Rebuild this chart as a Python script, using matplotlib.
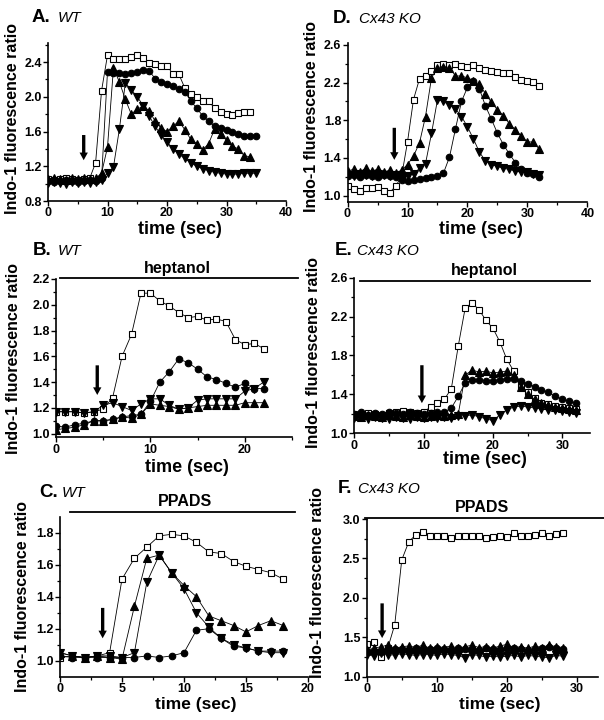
import numpy as np
import matplotlib
matplotlib.use('Agg')
import matplotlib.pyplot as plt
from matplotlib.lines import Line2D

plt.rcParams['font.family'] = ['Liberation Sans', 'DejaVu Sans']
plt.rcParams['font.weight'] = 'bold'

# ---------------- data ----------------
# Panel A: WT
A_sq = [1.05,1.04,1.05,1.06,1.05,1.04,1.05,1.06,1.24,2.07,2.48,2.44,2.43,2.44,2.46,2.48,2.45,2.39,
        2.38,2.35,2.36,2.26,2.26,2.10,2.03,2.00,1.95,1.95,1.87,1.83,1.80,1.79,1.81,1.82,1.82]
A_ci = [1.03,1.02,1.03,1.04,1.03,1.02,1.03,1.04,1.03,1.06,2.29,2.28,2.27,2.26,2.27,2.29,2.31,2.30,
        2.21,2.17,2.15,2.12,2.09,2.06,1.95,1.87,1.78,1.72,1.66,1.64,1.62,1.59,1.57,1.55,1.55,1.55]
A_up = [1.05,1.06,1.05,1.04,1.06,1.05,1.06,1.05,1.06,1.12,1.42,2.33,2.17,1.97,1.80,1.86,1.89,1.84,
        1.72,1.64,1.60,1.66,1.72,1.62,1.51,1.46,1.39,1.46,1.63,1.57,1.50,1.43,1.40,1.32,1.31]
A_dn = [1.01,1.02,1.01,1.00,1.02,1.01,1.02,1.01,1.02,1.04,1.12,1.19,1.63,2.16,2.08,2.00,1.90,1.78,
        1.66,1.56,1.48,1.40,1.34,1.29,1.24,1.20,1.17,1.15,1.13,1.12,1.11,1.11,1.11,1.12,1.12,1.12]

# Panel D: Cx43 KO
D_sq = [1.10,1.07,1.05,1.08,1.08,1.09,1.05,1.03,1.10,1.20,1.57,2.02,2.24,2.27,2.32,2.39,2.40,2.39,
        2.40,2.38,2.37,2.39,2.35,2.33,2.32,2.31,2.30,2.30,2.26,2.23,2.22,2.21,2.16]
D_up = [1.26,1.28,1.25,1.29,1.26,1.28,1.25,1.27,1.24,1.27,1.33,1.42,1.56,1.84,2.25,2.36,2.37,2.36,
        2.27,2.27,2.25,2.22,2.18,2.08,1.99,1.91,1.85,1.76,1.70,1.63,1.57,1.57,1.49]
D_dn = [1.22,1.21,1.23,1.22,1.21,1.23,1.22,1.21,1.22,1.20,1.21,1.23,1.29,1.34,1.66,2.02,2.00,1.96,
        1.92,1.84,1.73,1.60,1.46,1.37,1.33,1.31,1.29,1.28,1.26,1.25,1.25,1.23,1.22]
D_ci = [1.21,1.22,1.20,1.22,1.21,1.20,1.22,1.21,1.20,1.17,1.16,1.17,1.18,1.19,1.20,1.21,1.24,1.41,
        1.71,2.00,2.15,2.22,2.13,1.95,1.81,1.66,1.54,1.44,1.35,1.28,1.24,1.23,1.20]

# Panel B: WT + heptanol
B_sq = [1.17,1.17,1.17,1.16,1.17,1.19,1.28,1.60,1.77,2.09,2.09,2.03,1.99,1.94,1.90,1.91,1.88,1.89,
        1.87,1.73,1.69,1.70,1.66]
B_dn = [1.17,1.17,1.17,1.16,1.17,1.22,1.24,1.21,1.18,1.23,1.27,1.27,1.22,1.19,1.20,1.26,1.27,1.27,
        1.27,1.27,1.33,1.35,1.40]
B_up = [1.03,1.04,1.05,1.07,1.10,1.10,1.11,1.13,1.12,1.15,1.23,1.22,1.21,1.19,1.20,1.21,1.22,1.22,
        1.22,1.22,1.24,1.24,1.24]
B_ci = [1.06,1.05,1.07,1.08,1.10,1.10,1.11,1.13,1.14,1.15,1.25,1.40,1.48,1.58,1.55,1.50,1.44,1.42,
        1.39,1.36,1.39,1.35,1.35]

# Panel E: Cx43 KO + heptanol
E_sq = [1.20,1.19,1.21,1.20,1.19,1.21,1.22,1.23,1.22,1.21,1.22,1.27,1.31,1.35,1.46,1.90,2.29,2.34,
        2.27,2.16,2.08,1.94,1.76,1.64,1.49,1.42,1.36,1.31,1.30,1.28,1.27,1.26,1.25]
E_ci = [1.20,1.22,1.19,1.21,1.20,1.22,1.21,1.20,1.22,1.21,1.20,1.21,1.22,1.22,1.26,1.38,1.52,1.55,
        1.55,1.54,1.54,1.55,1.56,1.56,1.54,1.51,1.48,1.45,1.42,1.38,1.35,1.33,1.31]
E_up = [1.18,1.17,1.19,1.18,1.17,1.19,1.18,1.17,1.19,1.18,1.17,1.18,1.19,1.18,1.19,1.20,1.60,1.65,
        1.63,1.64,1.62,1.63,1.64,1.60,1.48,1.40,1.35,1.31,1.29,1.27,1.26,1.25,1.24]
E_dn = [1.16,1.17,1.15,1.17,1.16,1.15,1.17,1.16,1.15,1.17,1.16,1.17,1.16,1.17,1.16,1.18,1.18,1.19,
        1.17,1.15,1.13,1.19,1.24,1.27,1.28,1.27,1.26,1.25,1.24,1.24,1.23,1.22,1.21]

# Panel C: WT + PPADS
C_sq = [1.02,1.03,1.02,1.03,1.05,1.51,1.64,1.71,1.78,1.79,1.78,1.74,1.68,1.67,1.62,1.59,1.57,1.55,1.51]
C_up = [1.05,1.03,1.02,1.03,1.02,1.01,1.34,1.64,1.66,1.55,1.47,1.40,1.28,1.25,1.22,1.18,1.22,1.25,1.22]
C_dn = [1.05,1.03,1.02,1.03,1.03,1.02,1.05,1.49,1.66,1.55,1.45,1.30,1.21,1.14,1.10,1.08,1.06,1.05,1.05]
C_ci = [1.03,1.02,1.02,1.02,1.02,1.02,1.02,1.03,1.02,1.03,1.05,1.19,1.20,1.14,1.09,1.08,1.06,1.06,1.06]

# Panel F: Cx43 KO + PPADS
F_sq = [1.42,1.44,1.25,1.36,1.66,2.48,2.71,2.80,2.83,2.79,2.79,2.79,2.76,2.79,2.79,2.78,2.78,2.76,
        2.77,2.79,2.77,2.82,2.79,2.79,2.80,2.82,2.79,2.81,2.82]
F_up = [1.34,1.36,1.38,1.40,1.36,1.38,1.39,1.37,1.40,1.36,1.38,1.37,1.39,1.36,1.38,1.40,1.37,1.38,
        1.36,1.39,1.41,1.37,1.38,1.36,1.39,1.37,1.40,1.38,1.37]
F_ci = [1.32,1.33,1.31,1.34,1.35,1.35,1.34,1.36,1.35,1.35,1.36,1.35,1.34,1.36,1.35,1.35,1.34,1.36,
        1.35,1.34,1.35,1.36,1.35,1.34,1.35,1.36,1.38,1.36,1.35]
F_dn = [1.28,1.26,1.30,1.27,1.28,1.29,1.28,1.27,1.28,1.28,1.27,1.29,1.28,1.27,1.24,1.28,1.27,1.25,
        1.26,1.25,1.26,1.27,1.25,1.27,1.26,1.25,1.24,1.27,1.26]

# stimulus arrows: (time, top value, tip value)
arrows = {'A': (6.0, 1.56, 1.27), 'D': (7.8, 1.72, 1.38), 'B': (4.37, 1.53, 1.30),
          'E': (9.75, 1.70, 1.31), 'C': (3.44, 1.33, 1.14), 'F': (2.2, 1.93, 1.49)}

letters = {'A': 'A.', 'B': 'B.', 'C': 'C.', 'D': 'D.', 'E': 'E.', 'F': 'F.'}
genotype = {'A': 'WT', 'B': 'WT', 'C': 'WT', 'D': 'Cx43 KO', 'E': 'Cx43 KO', 'F': 'Cx43 KO'}
drug = {'B': 'heptanol', 'E': 'heptanol', 'C': 'PPADS', 'F': 'PPADS'}
ylab = 'Indo-1 fluorescence ratio'
xlab = 'time (sec)'

series = {'A': (A_sq, A_ci, A_up, A_dn), 'D': (D_sq, D_ci, D_up, D_dn),
          'B': (B_sq, B_ci, B_up, B_dn), 'E': (E_sq, E_ci, E_up, E_dn),
          'C': (C_sq, C_ci, C_up, C_dn), 'F': (F_sq, F_ci, F_up, F_dn)}

# ---------------- layout (pixels) ----------------
W, H = 604, 720
fig = plt.figure(figsize=(W / 100, H / 100), dpi=100)

def px_ax(l, r, t, b):
    return fig.add_axes([l / W, 1 - b / H, (r - l) / W, (b - t) / H])

def ftxt(x, y, s, **kw):
    return fig.text(x / W, 1 - y / H, s, **kw)

def hline(x0, x1, y, lw=1.3):
    fig.add_artist(Line2D([x0 / W, x1 / W], [1 - y / H, 1 - y / H], transform=fig.transFigure,
                          color='k', lw=lw))

cfg = {
    'A': dict(box=(48, 286, 43, 201), xlim=(0, 40), ylim=(0.8, 2.62), xt=[0, 10, 20, 30, 40], xm=[5, 15, 25, 35],
              yt=[0.8, 1.2, 1.6, 2.0, 2.4], ym=[1.0, 1.4, 1.8, 2.2, 2.6]),
    'D': dict(box=(347.5, 587.5, 43, 201.7), xlim=(0, 40), ylim=(0.936, 2.62), xt=[0, 10, 20, 30, 40], xm=[5, 15, 25, 35],
              yt=[1.0, 1.4, 1.8, 2.2, 2.6], ym=[1.2, 1.6, 2.0, 2.4]),
    'B': dict(box=(56, 292, 279, 437.5), xlim=(0, 25), ylim=(0.97, 2.2), xt=[0, 10, 20], xm=[5, 15, 25],
              yt=[1.0, 1.2, 1.4, 1.6, 1.8, 2.0, 2.2], ym=[1.1, 1.3, 1.5, 1.7, 1.9, 2.1]),
    'E': dict(box=(354.3, 590, 277.7, 433.3), xlim=(0, 34), ylim=(1.0, 2.6), xt=[0, 10, 20, 30], xm=[5, 15, 25],
              yt=[1.0, 1.4, 1.8, 2.2, 2.6], ym=[1.2, 1.6, 2.0, 2.4]),
    'C': dict(box=(60, 308, 516.7, 676.7), xlim=(0, 20), ylim=(0.9, 1.9), xt=[0, 5, 10, 15, 20], xm=[2.5, 7.5, 12.5, 17.5],
              yt=[1.0, 1.2, 1.4, 1.6, 1.8], ym=[1.1, 1.3, 1.5, 1.7]),
    'F': dict(box=(366.7, 598, 519, 676.7), xlim=(0, 33), ylim=(1.0, 3.0), xt=[0, 10, 20, 30], xm=[5, 15, 25],
              yt=[1.0, 1.5, 2.0, 2.5, 3.0], ym=[1.25, 1.75, 2.25, 2.75]),
}

title_pos = {'A': (32, 22, 58), 'D': (333, 23, 359), 'B': (33, 255, 58),
             'E': (335, 255, 357), 'C': (39, 497, 62), 'F': (338, 493, 358)}
xlab_pos = {'A': (180, 230), 'D': (481, 230), 'B': (187, 468), 'E': (485, 460), 'C': (196, 704), 'F': (500, 704)}
ylab_pos = {'A': (13, 118), 'D': (312, 117), 'B': (14, 359), 'E': (314, 352), 'C': (23, 597), 'F': (317, 583)}
drug_txt = {'B': (177, 268), 'E': (484, 270), 'C': (185, 502), 'F': (482, 508)}
drug_bar = {'B': (60, 298, 278), 'E': (360, 590, 280.7), 'C': (70, 295, 512.3), 'F': (365, 604, 517.7)}

mk = dict(color='k', lw=0.6, mec='k', mew=0.8)

for key, c in cfg.items():
    ax = px_ax(*c['box'])
    sq, ci, up, dn = series[key]
    ax.plot(np.arange(len(sq)), sq, marker='s', ms=4.9, mfc='white', zorder=2, **mk)
    ax.plot(np.arange(len(ci)), ci, marker='o', ms=4.7, mfc='k', zorder=3, **mk)
    ax.plot(np.arange(len(up)), up, marker='^', ms=5.3, mfc='k', zorder=4, **mk)
    ax.plot(np.arange(len(dn)), dn, marker='v', ms=5.3, mfc='k', zorder=5, **mk)

    ax.set_xlim(*c['xlim'])
    ax.set_ylim(*c['ylim'])
    ax.set_xticks(c['xt'])
    ax.set_xticks(c['xm'], minor=True)
    ax.set_yticks(c['yt'])
    ax.set_yticks(c['ym'], minor=True)
    ax.set_xticklabels([str(v) for v in c['xt']])
    ax.set_yticklabels(['%.1f' % v for v in c['yt']])
    for s in ('top', 'right'):
        ax.spines[s].set_visible(False)
    for s in ('left', 'bottom'):
        ax.spines[s].set_linewidth(1.2)
    ax.tick_params(which='major', direction='out', length=3.5, width=1.0, labelsize=9, pad=1)
    ax.tick_params(which='minor', direction='out', length=2, width=0.9)
    for lab in ax.get_xticklabels() + ax.get_yticklabels():
        lab.set_fontweight('bold')

    t, y0, y1 = arrows[key]
    ax.annotate('', xy=(t, y1), xytext=(t, y0),
                arrowprops=dict(arrowstyle='simple,head_width=0.6,head_length=0.55,tail_width=0.24',
                                fc='k', ec='k', lw=0, shrinkA=0, shrinkB=0), zorder=6)

    lx, ly, gx = title_pos[key]
    ftxt(lx, ly, letters[key], fontsize=13.5, fontweight='bold', ha='left', va='baseline')
    ftxt(gx, ly, genotype[key], fontsize=11, fontweight='normal', style='italic', ha='left', va='baseline')

    x, y = xlab_pos[key]
    fs = 12.5 if key in ('C', 'F') else 13
    ftxt(x, y, xlab, fontsize=fs, fontweight='bold', ha='center', va='center')
    x, y = ylab_pos[key]
    ftxt(x, y, ylab, fontsize=11.5, fontweight='bold', ha='center', va='center', rotation=90)

    if key in drug:
        x, y = drug_txt[key]
        ftxt(x, y, drug[key], fontsize=11.5, fontweight='bold', ha='center', va='center')
        hline(*drug_bar[key])

fig.savefig('out.png', dpi=100)
